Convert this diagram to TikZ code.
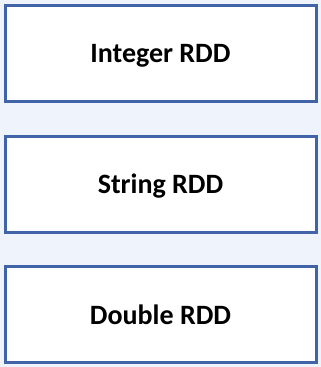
\documentclass[tikz,border=0pt]{standalone}
\usepackage{fontspec}
\setmainfont{Carlito}
\definecolor{bgc}{HTML}{EFF3FB}
\definecolor{edgec}{HTML}{4164A8}
\begin{document}
\begin{tikzpicture}[x=1pt,y=-1pt,
  rdd/.style={draw=edgec, line width=3pt, fill=white, minimum width=311pt, minimum height=96pt, inner sep=0pt, text depth=0pt, font=\fontsize{28}{32}\selectfont\bfseries}]
\fill[bgc] (0,0) rectangle (321,367);
\useasboundingbox (0,0) rectangle (321,367);
\node[rdd] (a) at (160.5,53) {Integer RDD};
\node[rdd] (b) at (160.5,184) {String RDD};
\node[rdd] (c) at (160.5,314.5) {Double RDD};
\end{tikzpicture}
\end{document}
